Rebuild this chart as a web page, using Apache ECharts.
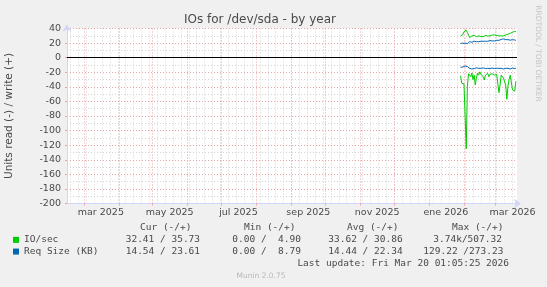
<!DOCTYPE html>
<html><head><meta charset="utf-8">
<script src="https://cdn.jsdelivr.net/npm/echarts@6/dist/echarts.min.js"></script>
<style>html,body{margin:0;padding:0;background:#f0f0f0;}#c{width:547px;height:287px;}</style>
</head><body><div id="c"></div>
<script>
// ---- axis / category data ----
const firstDay = [2025, 1, 14];   // 14 Feb 2025 (UTC, month 0-based)
const dayCount = 400;             // munin "by year" = 400 days
const monthNames = ['ene','feb','mar','abr','may','jun','jul','ago','sep','oct','nov','dic'];
const yMin = -200, yMax = 40, yMajor = 20, yMinor = 10;

// ---- series data (daily), starting at dataStart ----
const dataStart = '2026-01-29';
const ioWrite = [29.8,30.5,31.5,35.7,34.8,37.7,34.5,31.0,27.5,28.0,29.8,31.0,30.5,29.8,28.8,30.0,29.8,27.5,29.0,31.5,28.8,29.8,30.5,31.1,29.8,28.8,29.8,30.5,31.1,30.2,31.1,29.8,30.5,31.1,29.8,28.8,30.0,31.1,29.8,29.8,31.1,30.5,32.1,32.5,33.5,34.0,34.8,35.7,36.0,35.7];
const ioRead = [25,35,33,36,37,125,40,22,20,26,21,30,24,37.5,28,21,24,19.5,23,21,26,30.6,24,25,21.5,26,23,24,22,23,24,22,23,22,48,37.5,24,21.5,28,30,37.5,57,39,30,24,21.4,44,42,46,32.4];
const reqWrite = [19.7,19.8,19.7,19.7,19.9,20.5,19.2,21.1,22.0,21.5,21.1,22.0,22.5,21.8,22.0,22.5,22.0,22.9,22.5,22.0,22.5,23.0,22.5,22.9,22.5,22.9,23.4,22.9,23.0,23.4,22.9,23.4,23.8,23.4,23.8,24.3,25.0,24.7,25.7,25.0,24.7,24.3,24.7,24.3,24.0,24.3,24.7,23.8,24.3,23.6];
const reqRead = [13.2,13.0,12.8,12.5,11.5,11.0,12.3,13.5,14.6,16.0,15.5,14.6,15.0,14.6,14.0,13.8,14.6,15.0,14.6,13.8,14.0,14.6,15.0,14.2,14.6,15.5,15.0,14.6,14.2,14.6,15.0,15.5,14.6,14.2,14.6,15.0,14.6,14.6,15.5,15.0,14.6,14.2,14.6,15.0,15.5,14.6,14.2,14.6,15.0,14.5];

// ---- legend text ----
const legendNames = ['IO/sec', 'Req Size (KB)'];
const statHeaders = ['Cur (-/+)', 'Min (-/+)', 'Avg (-/+)', 'Max (-/+)'];
const ioStats = ['32.41 / 35.73', '0.00 /  4.90', '33.62 / 30.86', '3.74k/507.32'];
const reqStats = ['14.54 / 23.61', '0.00 /  8.79', '14.44 / 22.34', '129.22 /273.23'];
const lastUpdate = 'Last update: Fri Mar 20 01:05:25 2026';
const titleText = 'IOs for /dev/sda - by year';
const yName = 'Units read (-) / write (+)';
const watermark = 'RRDTOOL / TOBI OETIKER';
const footer = 'Munin 2.0.75';

// ---- build ----
const days = [];
const t0 = Date.UTC(firstDay[0], firstDay[1], firstDay[2]);
for (let i = 0; i < dayCount; i++) days.push(new Date(t0 + i * 86400000).toISOString().slice(0, 10));
const startIdx = days.indexOf(dataStart);
function pad(arr, sign) {
  return days.map((_, i) => (i >= startIdx && i - startIdx < arr.length) ? sign * arr[i - startIdx] : null);
}
const isMonthStart = (idx, v) => v.slice(8) === '01';
const isMonday = (idx, v) => new Date(v + 'T00:00:00Z').getUTCDay() === 1;
const isLabelDay = (idx, v) => v.slice(8) === '16' && (parseInt(v.slice(5, 7), 10) % 2 === 1);

const GREEN = '#00cc00', BLUE = '#0066b3';
const MGRID = '#eaa3a3', GRID = '#d4d4d4', AXIS = '#cfd6f8', FONT = '#4a4a4a';
const mono = '"DejaVu Sans Mono", monospace';
const sans = '"DejaVu Sans", sans-serif';

function line(name, color, data, extra) {
  return Object.assign({
    name, type: 'line', data, xAxisIndex: 0, yAxisIndex: 0,
    showSymbol: false, symbol: 'none', connectNulls: false,
    lineStyle: { color, width: 1 }, itemStyle: { color }, z: 3, animation: false
  }, extra || {});
}

const graphics = [];
const colX = [140, 244, 347, 452];
statHeaders.forEach((t, i) => graphics.push({ type: 'text', x: colX[i], y: 227.5, style: { text: t, font: '9.5px ' + mono, fill: FONT, textVerticalAlign: 'middle', verticalAlign: 'middle' } }));
const valX = [125.7, 232.3, 328.3, 433.3];
ioStats.forEach((t, i) => graphics.push({ type: 'text', x: valX[i], y: 240, style: { text: t, font: '9.5px ' + mono, fill: FONT, textVerticalAlign: 'middle', verticalAlign: 'middle' } }));
const valX2 = [125.7, 232.3, 328.3, 423.3];
reqStats.forEach((t, i) => graphics.push({ type: 'text', x: valX2[i], y: 251.7, style: { text: t, font: '9.5px ' + mono, fill: FONT, textVerticalAlign: 'middle', verticalAlign: 'middle' } }));
graphics.push({ type: 'text', x: 509, y: 263.3, style: { text: lastUpdate, font: '9.5px ' + mono, fill: FONT, textAlign: 'right', align: 'right', textVerticalAlign: 'middle', verticalAlign: 'middle' } });
graphics.push({ type: 'text', x: 261, y: 276, style: { text: footer, font: '7.5px ' + sans, fill: '#b8b8b8', textAlign: 'center', align: 'center', textVerticalAlign: 'middle', verticalAlign: 'middle' } });
graphics.push({ type: 'text', x: 538, y: 53.5, rotation: -Math.PI / 2, originX: 0, originY: 0, style: { text: watermark, font: '7.5px ' + sans, fill: '#c4c4c4', textAlign: 'center', align: 'center', textVerticalAlign: 'middle', verticalAlign: 'middle' } });

const chart = echarts.init(document.getElementById('c'), null, { renderer: 'canvas' });
chart.setOption({
  animation: false,
  backgroundColor: '#f0f0f0',
  title: { text: titleText, left: 184, top: 14, padding: 0, textStyle: { fontSize: 12, fontWeight: 'normal', color: FONT, fontFamily: sans } },
  grid: { left: 67, right: 30, top: 28.5, bottom: 83.5, containLabel: false, outerBoundsMode: 'none', show: true, backgroundColor: '#ffffff', borderWidth: 0 },
  legend: {
    data: legendNames, orient: 'vertical', left: 13, top: 234, padding: 0, itemGap: 0,
    itemWidth: 6, itemHeight: 6, icon: 'rect', selectedMode: false,
    textStyle: { fontFamily: mono, fontSize: 9.5, color: FONT, lineHeight: 11.7 }
  },
  xAxis: [
    { type: 'category', data: days, boundaryGap: false, position: 'bottom', z: 0,
      axisLine: { show: false }, axisTick: { show: false }, axisLabel: { show: false },
      splitLine: { show: true, interval: isMonday, lineStyle: { color: GRID, type: [1, 2], width: 1 } } },
    { type: 'category', data: days, boundaryGap: false, position: 'bottom', z: 1,
      axisLine: { show: true, onZero: false, lineStyle: { color: AXIS, width: 1 }, symbol: ['none', 'arrow'], symbolSize: [7, 7], symbolOffset: [0, 4] },
      axisTick: { show: true, interval: isMonthStart, length: 2, lineStyle: { color: MGRID } },
      axisLabel: { show: true, interval: isLabelDay, margin: 4, fontSize: 9.5, fontFamily: sans, color: FONT,
        formatter: v => monthNames[parseInt(v.slice(5, 7), 10) - 1] + ' ' + v.slice(0, 4) },
      splitLine: { show: true, interval: isMonthStart, lineStyle: { color: MGRID, type: [1, 2], width: 1 } } }
  ],
  yAxis: [
    { type: 'value', min: yMin, max: yMax, interval: yMinor, z: 0, position: 'left',
      axisLine: { show: false }, axisTick: { show: false }, axisLabel: { show: false },
      splitLine: { show: true, lineStyle: { color: GRID, type: [1, 2], width: 1 } } },
    { type: 'value', min: yMin, max: yMax, interval: yMajor, z: 1, position: 'left', offset: 0,
      name: yName, nameLocation: 'middle', nameRotate: 90, nameGap: 52,
      nameTextStyle: { fontSize: 10.5, fontFamily: sans, color: FONT },
      axisLine: { show: true, onZero: false, lineStyle: { color: AXIS, width: 1 }, symbol: ['none', 'arrow'], symbolSize: [7, 7], symbolOffset: [0, 4] },
      axisTick: { show: true, length: 2, lineStyle: { color: MGRID } },
      axisLabel: { show: true, margin: 6, fontSize: 9.5, fontFamily: sans, color: FONT },
      splitLine: { show: true, lineStyle: { color: MGRID, type: [1, 2], width: 1 } } }
  ],
  series: [
    line(legendNames[0], GREEN, pad(ioRead, -1), {
      markLine: { silent: true, symbol: ['none', 'none'], label: { show: false }, z: 2,
        lineStyle: { color: '#000000', type: 'solid', width: 1 }, data: [{ yAxis: 0 }] } }),
    line(legendNames[0], GREEN, pad(ioWrite, 1)),
    line(legendNames[1], BLUE, pad(reqRead, -1)),
    line(legendNames[1], BLUE, pad(reqWrite, 1))
  ],
  graphic: graphics
});
</script></body></html>
